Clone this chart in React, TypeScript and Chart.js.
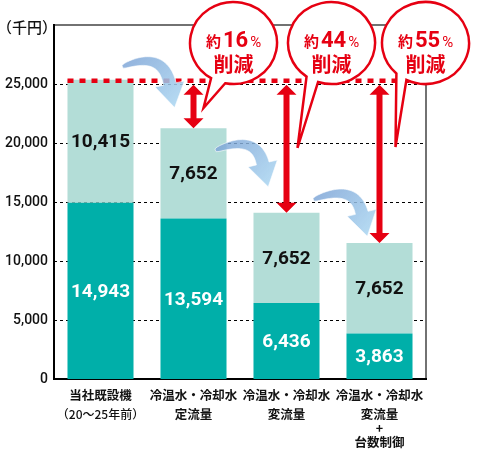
import React, { useEffect, useRef } from 'react';
import { Chart, registerables } from 'chart.js';

Chart.register(...registerables);

// ---- data ----
const categories: string[][] = [
  ['当社既設機', '（20〜25年前）'],
  ['冷温水・冷却水', '定流量'],
  ['冷温水・冷却水', '変流量'],
  ['冷温水・冷却水', '変流量', '+', '台数制御'],
];
const baseValues = [14943, 13594, 6436, 3863];
const addedValues = [10415, 7652, 7652, 7652];
const reductionPct = ['', '16', '44', '55'];
const yTicks = [0, 5000, 10000, 15000, 20000, 25000];
const yMax = 30000;
const unitLabel = '（千円）';
const reductionPrefix = '約';
const reductionSuffix = '%';
const reductionWord = '削減';

const RED = '#E60012';
const DARK = '#00AFA9';
const LIGHT = '#B3DDD7';
const NUM_FONT = 'Roboto, "DejaVu Sans", sans-serif';
const JP_FONT = '"Noto Sans CJK JP", "Noto Sans", sans-serif';

const fmt = (v: number) => v.toLocaleString('en-US');

function drawCurvedArrow(ctx: CanvasRenderingContext2D, S: { x: number; y: number }, T: { x: number; y: number }) {
  const headLen = 24, headW = 30, w0 = 3, w1 = 13;
  const d0 = { x: 0.24, y: 0.97 };
  const B = { x: T.x - d0.x * headLen, y: T.y - d0.y * headLen };
  const C = { x: S.x + 0.85 * (B.x - S.x), y: Math.min(S.y, B.y) - 17 };
  let tx = B.x - C.x, ty = B.y - C.y;
  const tl = Math.hypot(tx, ty);
  tx /= tl; ty /= tl;
  const tip = { x: B.x + tx * headLen, y: B.y + ty * headLen };
  const N = 30;
  const a: { x: number; y: number }[] = [];
  const b: { x: number; y: number }[] = [];
  for (let i = 0; i <= N; i++) {
    const t = i / N;
    const px = (1 - t) * (1 - t) * S.x + 2 * (1 - t) * t * C.x + t * t * B.x;
    const py = (1 - t) * (1 - t) * S.y + 2 * (1 - t) * t * C.y + t * t * B.y;
    let dx = 2 * (1 - t) * (C.x - S.x) + 2 * t * (B.x - C.x);
    let dy = 2 * (1 - t) * (C.y - S.y) + 2 * t * (B.y - C.y);
    const l = Math.hypot(dx, dy);
    dx /= l; dy /= l;
    const nx = -dy, ny = dx;
    const w = w0 + (w1 - w0) * Math.sqrt(t);
    a.push({ x: px + nx * w / 2, y: py + ny * w / 2 });
    b.push({ x: px - nx * w / 2, y: py - ny * w / 2 });
  }
  const nx = -ty, ny = tx;
  ctx.save();
  ctx.beginPath();
  ctx.moveTo(a[0].x, a[0].y);
  for (const p of a) ctx.lineTo(p.x, p.y);
  ctx.lineTo(B.x + nx * headW / 2, B.y + ny * headW / 2);
  ctx.lineTo(tip.x, tip.y);
  ctx.lineTo(B.x - nx * headW / 2, B.y - ny * headW / 2);
  for (let i = b.length - 1; i >= 0; i--) ctx.lineTo(b[i].x, b[i].y);
  ctx.closePath();
  const g = ctx.createLinearGradient(S.x, S.y - 10, tip.x, tip.y);
  g.addColorStop(0, 'rgba(120,160,212,0.82)');
  g.addColorStop(1, 'rgba(172,214,241,0.88)');
  ctx.fillStyle = g;
  ctx.fill();
  ctx.strokeStyle = 'rgba(255,255,255,0.6)';
  ctx.lineWidth = 1;
  ctx.stroke();
  ctx.restore();
}

function drawRedArrow(ctx: CanvasRenderingContext2D, x: number, yTop: number, yBot: number) {
  const hw = 10, hh = 10, sw = 3;
  ctx.save();
  ctx.fillStyle = RED;
  ctx.beginPath();
  ctx.moveTo(x, yTop);
  ctx.lineTo(x + hw, yTop + hh);
  ctx.lineTo(x + sw, yTop + hh);
  ctx.lineTo(x + sw, yBot - hh);
  ctx.lineTo(x + hw, yBot - hh);
  ctx.lineTo(x, yBot);
  ctx.lineTo(x - hw, yBot - hh);
  ctx.lineTo(x - sw, yBot - hh);
  ctx.lineTo(x - sw, yTop + hh);
  ctx.lineTo(x - hw, yTop + hh);
  ctx.closePath();
  ctx.fill();
  ctx.restore();
}

function drawBubble(ctx: CanvasRenderingContext2D, cx: number, cy: number, tipX: number, tipY: number, a1: number, a2: number, pct: string) {
  const rx = 43.5, ry = 41;
  ctx.save();
  ctx.beginPath();
  ctx.ellipse(cx, cy, rx, ry, 0, (a1 * Math.PI) / 180, (a2 * Math.PI) / 180, true);
  ctx.lineTo(tipX, tipY);
  ctx.closePath();
  ctx.fillStyle = '#fff';
  ctx.fill();
  ctx.strokeStyle = RED;
  ctx.lineWidth = 2.5;
  ctx.lineJoin = 'miter';
  ctx.stroke();

  ctx.fillStyle = RED;
  ctx.textBaseline = 'alphabetic';
  ctx.textAlign = 'left';
  const f1 = `bold 15px ${JP_FONT}`;
  const f2 = `bold 22px ${NUM_FONT}`;
  const f3 = `15px ${NUM_FONT}`;
  ctx.font = f1; const w1 = ctx.measureText(reductionPrefix).width;
  ctx.font = f2; const w2 = ctx.measureText(pct).width;
  ctx.font = f3; const w3 = ctx.measureText(reductionSuffix).width;
  const gap = 2;
  let x = cx - (w1 + w2 + w3 + gap * 2) / 2;
  const base = 47;
  ctx.font = f1; ctx.fillText(reductionPrefix, x, base); x += w1 + gap;
  ctx.font = f2; ctx.fillText(pct, x, base); x += w2 + gap;
  ctx.font = f3; ctx.fillText(reductionSuffix, x, base);
  ctx.font = `bold 20px ${JP_FONT}`;
  ctx.textAlign = 'center';
  ctx.textBaseline = 'middle';
  ctx.fillText(reductionWord, cx, 64);
  ctx.restore();
}

const decorPlugin = {
  id: 'decor',
  beforeDatasetsDraw(chart: any) {
    const { ctx, chartArea: ca, scales } = chart;
    const y = scales.y;
    ctx.save();
    // dashed grid
    ctx.strokeStyle = '#000';
    ctx.lineWidth = 1;
    ctx.setLineDash([3, 3]);
    for (const v of yTicks) {
      if (v === 0) continue;
      const py = Math.round(y.getPixelForValue(v)) + 0.5;
      ctx.beginPath();
      ctx.moveTo(ca.left, py);
      ctx.lineTo(ca.right, py);
      ctx.stroke();
    }
    ctx.setLineDash([]);
    // frame
    ctx.strokeStyle = '#444';
    ctx.lineWidth = 1.5;
    ctx.beginPath();
    ctx.moveTo(ca.left, ca.top);
    ctx.lineTo(ca.right, ca.top);
    ctx.lineTo(ca.right, ca.bottom);
    ctx.stroke();
    ctx.strokeStyle = '#000';
    ctx.lineWidth = 2;
    ctx.beginPath();
    ctx.moveTo(ca.left, ca.top - 1);
    ctx.lineTo(ca.left, ca.bottom);
    ctx.lineTo(ca.right + 1, ca.bottom);
    ctx.stroke();
    // unit label
    ctx.fillStyle = '#111';
    ctx.font = `500 15px ${JP_FONT}`;
    ctx.textAlign = 'left';
    ctx.textBaseline = 'middle';
    ctx.fillText(unitLabel, -3, 27);
    ctx.restore();
  },
  afterDatasetsDraw(chart: any) {
    const { ctx, chartArea: ca, scales } = chart;
    const xs = scales.x, ys = scales.y;
    const xc = categories.map((_, i) => xs.getPixelForValue(i));
    const totals = baseValues.map((v, i) => v + addedValues[i]);
    const yTop = totals.map((t) => ys.getPixelForValue(t));
    ctx.save();
    // value labels
    ctx.textAlign = 'center';
    ctx.textBaseline = 'middle';
    ctx.font = `bold 19px ${NUM_FONT}`;
    baseValues.forEach((v, i) => {
      const y0 = ys.getPixelForValue(0), y1 = ys.getPixelForValue(v);
      ctx.fillStyle = '#fff';
      ctx.fillText(fmt(v), xc[i], (y0 + y1) / 2 + 1);
      const y2 = ys.getPixelForValue(v + addedValues[i]);
      ctx.fillStyle = '#111';
      ctx.fillText(fmt(addedValues[i]), xc[i], (y1 + y2) / 2 + 1);
    });
    // category labels
    ctx.fillStyle = '#111';
    categories.forEach((lines, i) => {
      let y = ca.bottom + 16;
      lines.forEach((line, j) => {
        const small = i === 0 && j === 1;
        ctx.font = small ? `500 12px ${JP_FONT}` : `bold 12.5px ${JP_FONT}`;
        ctx.fillText(line, xc[i], y);
        const next = lines[j + 1];
        y += line === '+' || next === '+' ? 14 : 19;
      });
    });
    // red dotted reference line at the existing total
    const barHalf = 33;
    ctx.strokeStyle = RED;
    ctx.lineWidth = 4.5;
    ctx.setLineDash([6, 6]);
    ctx.beginPath();
    ctx.moveTo(xc[0] - barHalf, yTop[0] + 1);
    ctx.lineTo(ca.right, yTop[0] + 1);
    ctx.stroke();
    ctx.setLineDash([]);
    // blue curved arrows
    const sx = [22, 22, 27], sy = [-13, 22, -13], tx = [18, 18, 12], ty = [21, 26, 7];
    for (let i = 0; i < 3; i++) {
      drawCurvedArrow(
        ctx,
        { x: xc[i] + sx[i], y: yTop[i] + sy[i] },
        { x: xc[i + 1] - tx[i], y: yTop[i + 1] - ty[i] }
      );
    }
    // red double arrows
    for (let i = 1; i < 4; i++) {
      drawRedArrow(ctx, xc[i], yTop[0] + 5, yTop[i]);
    }
    // bubbles
    const bcx = [0, 40, 45, 46], tipDx = [0, 10, 11, 16], tipY = [0, 108, 148, 147];
    const angs = [[0, 0], [101, 121], [108, 125], [116, 132]];
    for (let i = 1; i < 4; i++) {
      drawBubble(ctx, xc[i] + bcx[i], 43, xc[i] + tipDx[i], tipY[i], angs[i][0], angs[i][1], reductionPct[i]);
    }
    ctx.restore();
  },
};

export default function App() {
  const ref = useRef<HTMLCanvasElement>(null);
  useEffect(() => {
    document.body.style.margin = '0';
    const chart = new Chart(ref.current!, {
      type: 'bar',
      data: {
        labels: categories.map((l) => l.join('')),
        datasets: [
          { data: baseValues, backgroundColor: DARK, stack: 's', barPercentage: 0.71, categoryPercentage: 1 },
          { data: addedValues, backgroundColor: LIGHT, stack: 's', barPercentage: 0.71, categoryPercentage: 1 },
        ],
      },
      options: {
        animation: false,
        responsive: false,
        maintainAspectRatio: false,
        layout: { padding: { left: 0, right: 55, top: 25, bottom: 74 } },
        plugins: { legend: { display: false }, tooltip: { enabled: false } },
        scales: {
          x: { display: false, stacked: true },
          y: {
            stacked: true,
            min: 0,
            max: yMax,
            afterFit: (s: any) => { s.width = 54; },
            afterBuildTicks: (s: any) => { s.ticks = yTicks.map((v) => ({ value: v })); },
            grid: { display: false, drawTicks: false },
            border: { display: false },
            ticks: {
              padding: 6,
              color: '#111',
              font: { family: NUM_FONT, size: 14, weight: '500' },
              callback: (v: any) => fmt(Number(v)),
            },
          },
        },
      },
      plugins: [decorPlugin],
    } as any);
    return () => chart.destroy();
  }, []);
  return (
    <div style={{ width: 481, height: 453 }}>
      <canvas ref={ref} width={481} height={453} />
    </div>
  );
}
